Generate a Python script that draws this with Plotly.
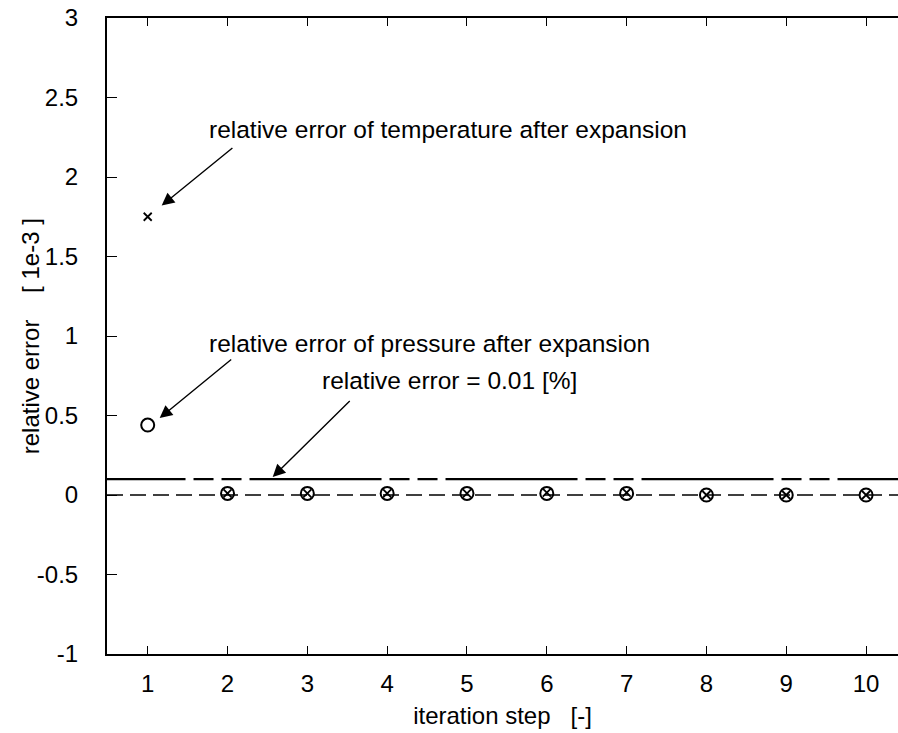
import plotly.graph_objects as go

# iteration steps and relative errors (units of 1e-3)
steps = [1, 2, 3, 4, 5, 6, 7, 8, 9, 10]
err_temperature = [1.75, 0.01, 0.01, 0.01, 0.01, 0.015, 0.015, 0.0, 0.0, 0.0]
err_pressure = [0.44, 0.01, 0.01, 0.01, 0.01, 0.01, 0.01, 0.0, 0.0, 0.0]
threshold = 0.1          # 0.01 % expressed in 1e-3
x_ticks = list(range(1, 11))
y_ticks = [-1, -0.5, 0, 0.5, 1, 1.5, 2, 2.5, 3]
y_tick_text = ["-1", "-0.5", "0", "0.5", "1", "1.5", "2", "2.5", "3"]

x_range = [0.49, 10.4]
y_range = [-1, 3]

FONT = "Liberation Sans, Arial, Helvetica, sans-serif"

fig = go.Figure()

# zero reference line
fig.add_trace(go.Scatter(
    x=x_range, y=[0, 0], mode="lines",
    line=dict(color="black", width=1.5, dash="16px,7px"),
    hoverinfo="skip", showlegend=False))

# tolerance line at 0.01 %
fig.add_trace(go.Scatter(
    x=[-0.18, x_range[1]], y=[threshold, threshold], mode="lines",
    line=dict(color="black", width=2.4, dash="132px,8px,20px,8px,20px,8px"),
    hoverinfo="skip", showlegend=False))

fig.add_trace(go.Scatter(
    x=steps, y=err_pressure, mode="markers", name="pressure",
    marker=dict(symbol="circle-open", size=13, color="black",
                line=dict(width=2, color="black")),
    showlegend=False))

fig.add_trace(go.Scatter(
    x=steps, y=err_temperature, mode="markers", name="temperature",
    marker=dict(symbol="x-thin", size=8, color="black",
                line=dict(width=1.8, color="black")),
    showlegend=False))

txt_font = dict(family=FONT, size=24.5, color="black")

annotations = [
    dict(x=1.74, y=2.30, text="relative error of temperature after expansion"),
    dict(x=1.74, y=0.956, text="relative error of pressure after expansion"),
    dict(x=3.155, y=0.72, text="relative error = 0.01 [%]"),
]
for a in annotations:
    fig.add_annotation(x=a["x"], y=a["y"], text=a["text"], showarrow=False,
                       xanchor="left", yanchor="middle", font=txt_font)

# arrows: (tip x, tip y, tail x, tail y)
arrows = [
    (1.175, 1.82, 2.08, 2.19),
    (1.15, 0.484, 2.065, 0.86),
    (2.566, 0.113, 3.55, 0.60),
]
for tx, ty, sx, sy in arrows:
    fig.add_annotation(x=tx, y=ty, ax=sx, ay=sy, xref="x", yref="y",
                       axref="x", ayref="y", text="", showarrow=True,
                       arrowhead=2, arrowsize=1.8, arrowwidth=1.4,
                       arrowcolor="black")

# y-axis title, placed as rotated text
fig.add_annotation(x=-0.097, y=0.5, xref="paper", yref="paper",
                   text="relative error\u00a0\u00a0\u00a0\u00a0[ 1e-3 ]",
                   textangle=-90, showarrow=False,
                   xanchor="center", yanchor="middle",
                   font=dict(family=FONT, size=24, color="black"))

fig.update_layout(
    width=898, height=733,
    margin=dict(l=107, r=0, t=18, b=79),
    paper_bgcolor="white", plot_bgcolor="white",
    font=dict(family=FONT, size=24, color="black"),
    showlegend=False,
)

fig.update_xaxes(
    range=x_range, tickmode="array", tickvals=x_ticks,
    ticks="inside", ticklen=8, tickwidth=1.4, tickcolor="black",
    showline=True, linecolor="black", linewidth=2, mirror="ticks",
    showgrid=False, zeroline=False,
    tickfont=dict(family=FONT, size=24), ticklabelstandoff=7,
    title=dict(text="iteration step\u00a0\u00a0\u00a0[-]", standoff=11,
               font=dict(family=FONT, size=24)),
)
fig.update_yaxes(
    range=y_range, tickmode="array", tickvals=y_ticks, ticktext=y_tick_text,
    ticks="inside", ticklen=10, tickwidth=1.4, tickcolor="black",
    showline=True, linecolor="black", linewidth=2, mirror=False,
    showgrid=False, zeroline=False,
    tickfont=dict(family=FONT, size=24), ticklabelstandoff=22,
)

fig.write_html("out.html")
